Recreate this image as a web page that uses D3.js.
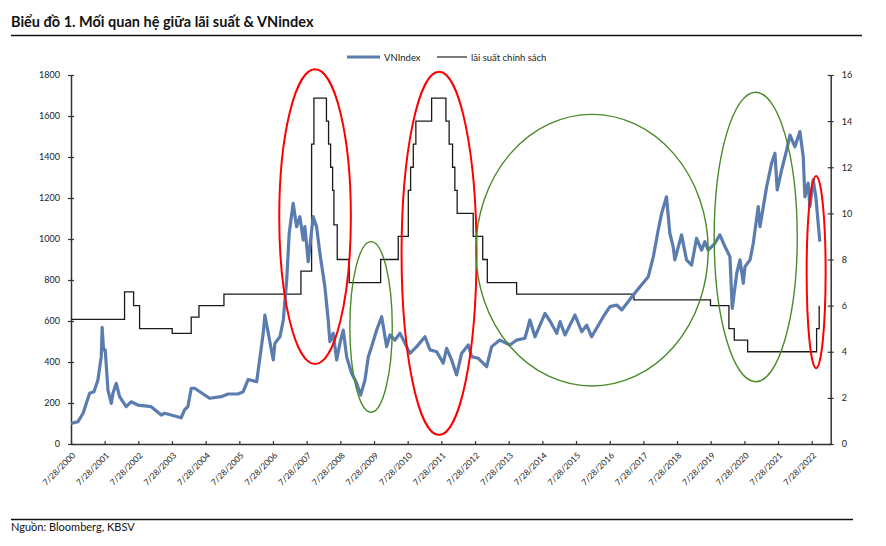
<!DOCTYPE html>
<html><head><meta charset="utf-8">
<script src="https://cdn.jsdelivr.net/npm/d3@7"></script>
<style>
body{margin:0;background:#fff;}
svg{display:block;font-family:Lato,"Noto Sans",sans-serif;}
</style></head>
<body><svg id="c" width="886" height="546"></svg>
<script>
// ---------- DATA ----------
const title = "Biểu đồ 1. Mối quan hệ giữa lãi suất & VNindex";
const source = "Nguồn: Bloomberg, KBSV";
const seriesNames = ["VNIndex", "lãi suất chính sách"];
const yLeftTicks = [0,200,400,600,800,1000,1200,1400,1600,1800];
const yRightTicks = [0,2,4,6,8,10,12,14,16];
const tickYears = [2000,2001,2002,2003,2004,2005,2006,2007,2008,2009,2010,2011,2012,2013,2014,2015,2016,2017,2018,2019,2020,2021,2022];

const vnDates = ["2000-07-28","2000-10-12","2000-12-06","2001-02-15","2001-04-03","2001-05-16","2001-06-21","2001-07-01","2001-07-16","2001-08-03","2001-09-02","2001-10-08","2001-10-26","2001-12-01","2002-01-06","2002-03-18","2002-05-12","2002-07-23","2002-12-15","2003-04-03","2003-05-10","2003-11-05","2003-12-12","2004-01-17","2004-02-22","2004-03-30","2004-07-17","2004-09-09","2005-01-13","2005-03-27","2005-07-13","2005-09-08","2005-11-01","2006-02-01","2006-04-13","2006-05-01","2006-06-07","2006-07-31","2006-08-18","2006-10-12","2006-11-17","2006-12-24","2007-01-20","2007-03-04","2007-04-10","2007-05-16","2007-06-21","2007-07-09","2007-08-14","2007-09-01","2007-10-07","2007-11-13","2007-12-19","2008-02-11","2008-03-18","2008-04-05","2008-05-11","2008-06-18","2008-07-23","2008-08-28","2008-10-04","2008-11-27","2009-01-21","2009-03-05","2009-04-21","2009-05-27","2009-07-02","2009-08-26","2009-10-19","2009-12-12","2010-01-17","2010-03-12","2010-05-06","2010-06-29","2010-08-22","2010-11-03","2011-02-01","2011-03-27","2011-06-08","2011-08-18","2011-09-24","2011-11-17","2012-01-10","2012-03-04","2012-05-15","2012-06-21","2012-09-01","2012-12-01","2013-01-24","2013-04-23","2013-08-10","2013-10-22","2014-01-20","2014-03-15","2014-05-09","2014-08-26","2014-10-19","2014-12-31","2015-02-05","2015-03-31","2015-07-17","2015-09-28","2015-11-21","2016-01-14","2016-05-19","2016-07-31","2016-10-12","2016-12-05","2017-04-10","2017-06-21","2017-09-19","2017-11-13","2018-01-05","2018-02-11","2018-04-05","2018-05-11","2018-06-16","2018-07-04","2018-09-15","2018-11-08","2019-01-02","2019-02-25","2019-04-20","2019-05-26","2019-07-01","2019-09-12","2019-11-05","2019-12-30","2020-02-22","2020-03-18","2020-05-06","2020-06-10","2020-07-16","2020-08-03","2020-09-27","2020-11-01","2020-12-25","2021-01-13","2021-03-26","2021-05-19","2021-06-24","2021-07-19","2021-09-05","2021-10-29","2021-12-04","2022-01-27","2022-03-22","2022-04-27","2022-05-15","2022-06-20","2022-07-08","2022-08-13","2022-09-11","2022-10-06","2022-10-24"];
const vnValues = [100,109,150,247,255,312,426,569,459,459,263,198,247,296,231,182,206,190,182,141,150,128,166,182,272,272,239,223,231,244,244,255,315,304,540,629,540,410,491,523,605,800,1028,1174,1060,1109,995,1060,889,963,1109,1060,930,767,605,499,540,410,491,556,426,345,296,239,312,426,475,556,621,475,532,507,540,491,442,475,523,459,450,394,467,410,337,442,483,426,418,377,475,507,483,507,516,605,523,637,600,540,597,532,629,548,580,523,621,670,678,654,727,767,816,914,1044,1125,1206,1028,963,898,1020,898,873,1003,946,987,946,979,1020,963,914,662,833,898,784,865,898,979,1158,1060,1255,1369,1418,1239,1337,1434,1507,1450,1524,1401,1206,1272,1158,1288,1206,1077,987];

const rateDates = ["2000-07-28","2002-03-01","2002-06-07","2002-08-11","2003-07-31","2004-02-22","2004-05-16","2005-02-11","2007-05-27","2007-09-20","2007-10-15","2008-02-28","2008-03-22","2008-04-13","2008-05-05","2008-05-19","2008-06-24","2008-11-01","2009-10-08","2010-04-17","2010-08-04","2010-08-29","2010-09-27","2010-10-25","2011-04-14","2011-09-16","2011-10-21","2011-11-27","2011-12-22","2012-01-16","2012-07-08","2012-10-19","2012-12-08","2013-10-22","2017-04-17","2019-07-26","2020-02-11","2020-04-09","2020-09-01","2022-09-19","2022-10-17"];
const rateValues = [5.4,6.6,6.0,5.0,4.8,5.5,6.0,6.5,7.5,13,15,14,13,12,11,9.5,8,7,8,9,11,12,13,14,15,14,13,12,11,10,9,8,7,6.5,6.25,6.0,5.0,4.5,4.0,5.0,6.0];

// annotation ellipses: date span and VNIndex-value span
const ellipseStart = ["2006-10-04","2008-11-08","2010-05-23","2012-08-06","2019-09-04","2022-06-03"];
const ellipseEnd   = ["2008-11-19","2010-02-11","2012-08-13","2019-07-01","2022-02-21","2022-12-26"];
const ellipseLow   = [390,155,44,283,304,369];
const ellipseHigh  = [1828,987,1816,1608,1716,1307];
const ellipseKind  = ["red","green","red","green","green","red"];

// ---------- DRAW ----------
const parse = d3.timeParse("%Y-%m-%d");
const svg = d3.select("#c");
const X0 = 71, X1 = 830.7, YT = 75, YB = 444;
const x = d3.scaleTime().domain([parse("2000-07-28"), parse("2023-02-19")]).range([X0, X1]);
const yL = d3.scaleLinear().domain([0,1800]).range([YB, YT]);
const yR = d3.scaleLinear().domain([0,16]).range([YB, YT]);

// title + rules
svg.append("text").attr("x",11).attr("y",27).attr("font-weight","700").attr("font-size",14.5).attr("fill","#111").text(title);
svg.append("line").attr("x1",11).attr("x2",862).attr("y1",35.5).attr("y2",35.5).attr("stroke","#111").attr("stroke-width",1.3);
svg.append("line").attr("x1",11).attr("x2",853).attr("y1",519.5).attr("y2",519.5).attr("stroke","#111").attr("stroke-width",1.3);
svg.append("text").attr("x",11).attr("y",531).attr("font-size",11).attr("fill","#111").text(source);

// legend
const lg = svg.append("g").attr("font-size",9.5).attr("fill","#222");
lg.append("line").attr("x1",347).attr("x2",380).attr("y1",57).attr("y2",57).attr("stroke","#5a7cae").attr("stroke-width",3);
lg.append("text").attr("x",384).attr("y",60.5).text(seriesNames[0]);
lg.append("line").attr("x1",437).attr("x2",467).attr("y1",57).attr("y2",57).attr("stroke","#222").attr("stroke-width",1.2);
lg.append("text").attr("x",471).attr("y",60.5).text(seriesNames[1]);

// axes
const axColor = "#333";
const gL = svg.append("g").attr("transform",`translate(${X0},0)`)
  .call(d3.axisLeft(yL).tickValues(yLeftTicks).tickFormat(d3.format("d")).tickSize(3).tickPadding(8).tickSizeOuter(0));
gL.selectAll(".tick line").attr("x1",3);
const gR = svg.append("g").attr("transform",`translate(${X1},0)`)
  .call(d3.axisRight(yR).tickValues(yRightTicks).tickFormat(d3.format("d")).tickSize(3).tickPadding(8).tickSizeOuter(0));
gR.selectAll(".tick line").attr("x1",-3);
const gX = svg.append("g").attr("transform",`translate(0,${YB})`)
  .call(d3.axisBottom(x).tickValues(tickYears.map(yv=>new Date(yv,6,28))).tickFormat(d3.timeFormat("%-m/%-d/%Y")).tickSize(-3).tickSizeOuter(0));
gX.selectAll(".tick text").attr("text-anchor","end").attr("dx","0.2em").attr("dy","0.2em")
  .attr("transform","translate(0,10) rotate(-45)");
[gL,gR,gX].forEach(g=>{
  g.selectAll("path").attr("stroke",axColor).attr("stroke-width",1.5);
  g.selectAll("line").attr("stroke",axColor).attr("stroke-width",1.2);
  g.selectAll("text").attr("font-family","Lato, 'Noto Sans', sans-serif").attr("font-size",9).attr("fill","#222");
});
gX.selectAll("text").attr("font-size",8.5);

// rate step line
const rateData = rateDates.map((d,i)=>({date:parse(d), v:rateValues[i]}));
svg.append("path").datum(rateData)
  .attr("d", d3.line().x(d=>x(d.date)).y(d=>yR(d.v)).curve(d3.curveStepAfter))
  .attr("fill","none").attr("stroke","#1a1a1a").attr("stroke-width",1.3);

// VNIndex line
const vnData = vnDates.map((d,i)=>({date:parse(d), v:vnValues[i]}));
svg.append("path").datum(vnData)
  .attr("d", d3.line().x(d=>x(d.date)).y(d=>yL(d.v)))
  .attr("fill","none").attr("stroke","#5a7cae").attr("stroke-width",3.2).attr("stroke-linejoin","round");

// ellipses
ellipseStart.forEach((s,i)=>{
  const xa = x(parse(s)), xb = x(parse(ellipseEnd[i]));
  const ya = yL(ellipseHigh[i]), yb = yL(ellipseLow[i]);
  svg.append("ellipse")
    .attr("cx",(xa+xb)/2).attr("cy",(ya+yb)/2)
    .attr("rx",(xb-xa)/2).attr("ry",(yb-ya)/2)
    .attr("fill","none")
    .attr("stroke", ellipseKind[i]==="red" ? "#ff0000" : "#4a8a2a")
    .attr("stroke-width", ellipseKind[i]==="red" ? 2 : 1.4);
});
</script></body></html>
